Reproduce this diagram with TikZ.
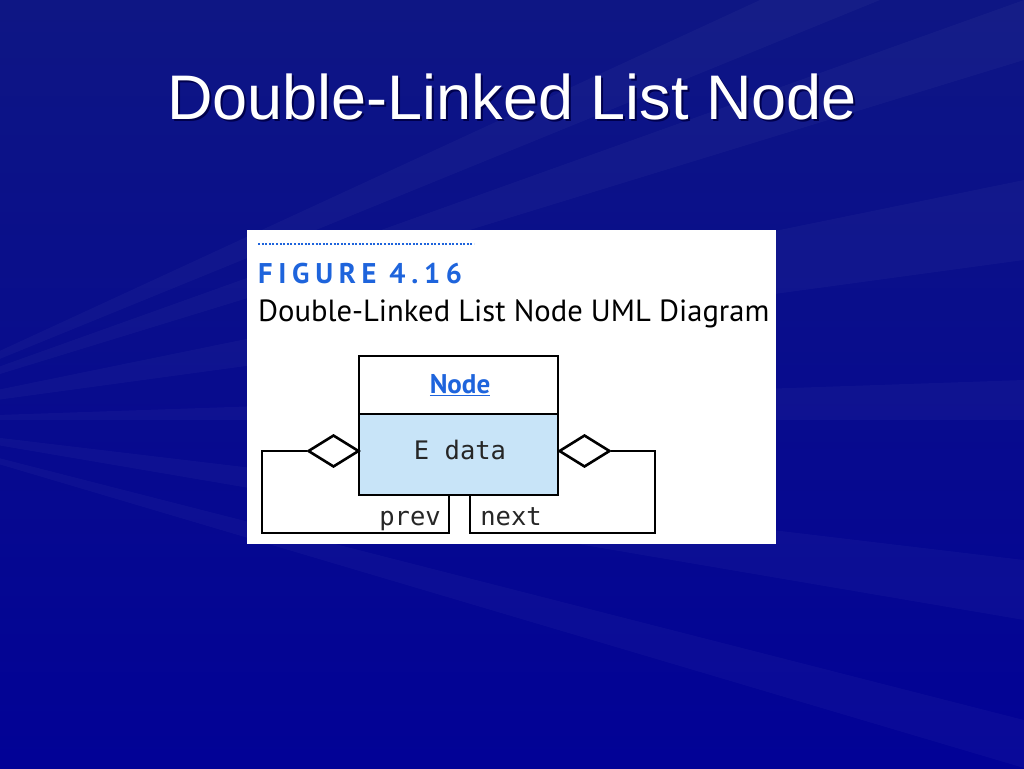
\documentclass[tikz,border=0pt]{standalone}
\usepackage{fontspec}
\setmainfont{Liberation Sans}
\newfontfamily\capfont{PT Sans}
\newfontfamily\figfont[LetterSpace=20]{PT Sans}
\newfontfamily\monofont{DejaVu Sans Mono}
\usetikzlibrary{shapes.geometric}
\definecolor{bgtop}{RGB}{14,22,132}
\definecolor{bgbot}{RGB}{2,2,150}
\definecolor{figblue}{RGB}{30,100,220}
\definecolor{bodyfill}{RGB}{200,228,248}
\tikzset{
  umlline/.style={line width=2.6pt, draw=black},
  classpart/.style={rectangle, umlline, minimum width=199pt, inner sep=0pt},
  agg/.style={diamond, umlline, fill=white, minimum width=51pt, minimum height=32pt, inner sep=0pt},
  monotext/.style={font=\monofont\fontsize{25.5}{28}\selectfont, text=black!85, inner sep=0pt},
  ray/.style={fill=white, opacity=0.03}
}
\begin{document}
\begin{tikzpicture}[x=1pt, y=-1pt]
\useasboundingbox (0,0) rectangle (1024,768);
% background
\shade[top color=bgtop, bottom color=bgbot] (0,0) rectangle (1024,768);
\fill[ray] (-150,420) -- (1024,0) -- (1024,60) -- cycle;
\fill[ray] (-150,420) -- (1024,180) -- (1024,260) -- cycle;
\fill[ray] (-150,420) -- (1024,380) -- (1024,420) -- cycle;
\fill[ray] (-150,420) -- (1024,560) -- (1024,620) -- cycle;
\fill[ray] (-150,420) -- (760,0) -- (880,0) -- cycle;
\fill[ray] (-150,420) -- (1024,720) -- (1024,768) -- cycle;
% title
\node[text=black!70!blue, font=\fontsize{63}{70}\selectfont] at (514,99) {Double-Linked List Node};
\node (title) [text=white, font=\fontsize{63}{70}\selectfont] at (512,97) {Double-Linked List Node};
% white panel
\fill[white] (247,230) rectangle (776,544);
\draw[figblue, line width=1.5pt, dash pattern=on 2pt off 1.6pt] (258,244) -- (474,244);
\node (fig) [anchor=base west, text=figblue, font=\figfont\bfseries\fontsize{28.5}{30}\selectfont, inner sep=0pt] at (258,283) {FIGURE 4.16};
\node (cap) [anchor=base west, text=black, font=\capfont\fontsize{30.6}{32}\selectfont, inner sep=0pt] at (258,321) {Double-Linked List Node UML Diagram};
% class box
\node (head) [classpart, fill=white, minimum height=58pt] at (458.5,385) {};
\node (body) [classpart, fill=bodyfill, minimum height=81pt] at (458.5,454.5) {};
\node (name) [text=figblue, font=\capfont\bfseries\fontsize{27}{30}\selectfont, inner sep=0pt] at (460,385) {\underline{Node}};
\node (data) [monotext] at (460,450) {E data};
% aggregation diamonds
\node (ldia) [agg] at (333.5,451) {};
\node (rdia) [agg] at (584.5,451) {};
\coordinate (l1) at (262,451);
\coordinate (l2) at (262,533);
\coordinate (l3) at (449,533);
\coordinate (r1) at (655,451);
\coordinate (r2) at (655,533);
\coordinate (r3) at (470,533);
\draw[umlline, line join=miter] (ldia.west) -- (l1) -- (l2) -- (l3) -- (l3 |- body.south);
\draw[umlline, line join=miter] (rdia.east) -- (r1) -- (r2) -- (r3) -- (r3 |- body.south);
\node (prev) [monotext, anchor=base] at (410,525) {prev};
\node (next) [monotext, anchor=base] at (511,525) {next};
\end{tikzpicture}
\end{document}
